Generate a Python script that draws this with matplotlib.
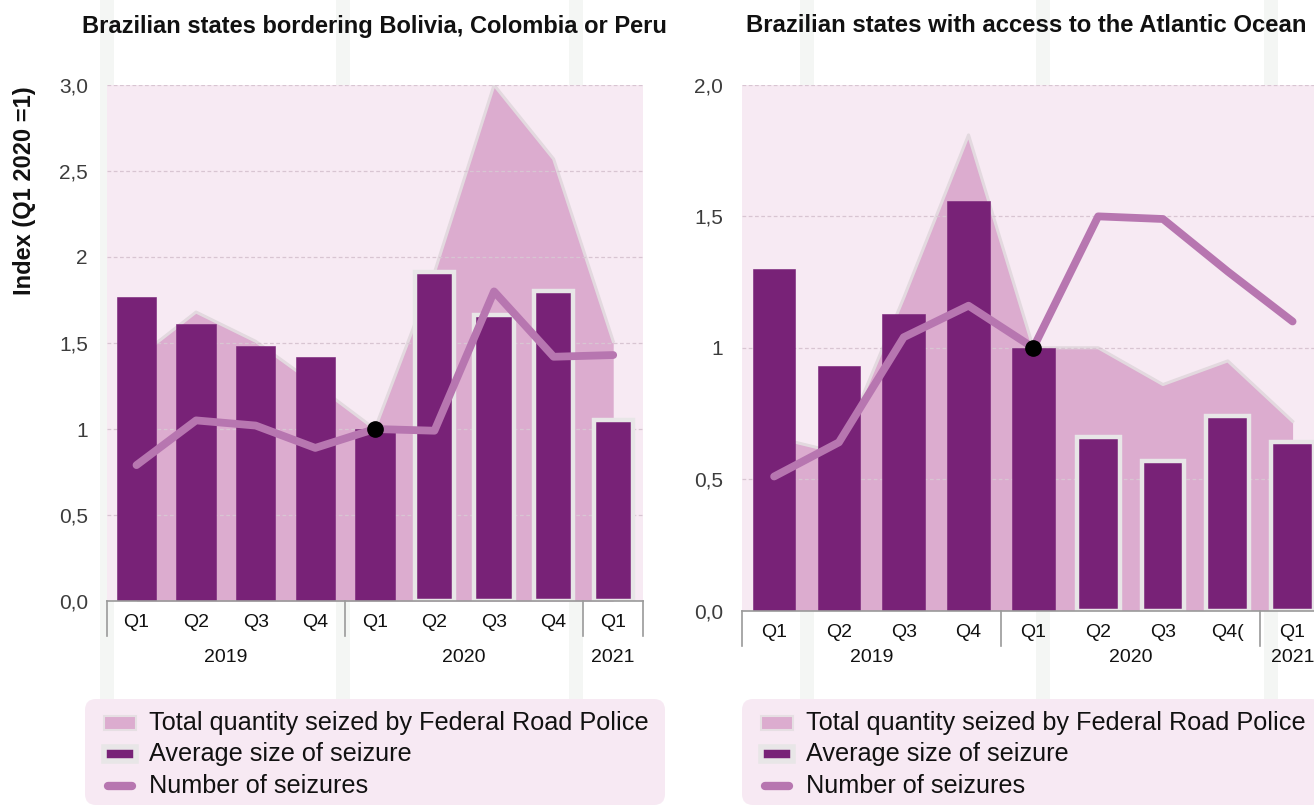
import matplotlib
matplotlib.use("Agg")
import matplotlib.pyplot as plt
import numpy as np
from matplotlib.patches import FancyBboxPatch, Rectangle
from matplotlib.lines import Line2D
from matplotlib.transforms import IdentityTransform

W, H = 1314, 805

# ---- data (index, Q1 2020 = 1) ----
quarters_left = ["Q1", "Q2", "Q3", "Q4", "Q1", "Q2", "Q3", "Q4", "Q1"]
quarters_right = ["Q1", "Q2", "Q3", "Q4", "Q1", "Q2", "Q3", "Q4(", "Q1"]
years = ["2019", "2020", "2021"]
year_spans = [(-0.5, 3.5), (3.5, 7.5), (7.5, 8.5)]

left_total = [1.41, 1.68, 1.51, 1.26, 1.00, 1.91, 3.00, 2.57, 1.51]
left_avg = [1.77, 1.61, 1.48, 1.42, 1.00, 1.91, 1.66, 1.80, 1.05]
left_count = [0.79, 1.05, 1.02, 0.89, 1.00, 0.99, 1.80, 1.42, 1.43]

right_total = [0.66, 0.60, 1.19, 1.81, 1.00, 1.00, 0.86, 0.95, 0.72]
right_avg = [1.30, 0.93, 1.13, 1.56, 1.00, 0.66, 0.57, 0.74, 0.64]
right_count = [0.51, 0.64, 1.04, 1.16, 1.00, 1.50, 1.49, 1.29, 1.10]

left_yticks = [0, 0.5, 1, 1.5, 2, 2.5, 3]
left_yticklabels = ["0,0", "0,5", "1", "1,5", "2", "2,5", "3,0"]
right_yticks = [0, 0.5, 1, 1.5, 2]
right_yticklabels = ["0,0", "0,5", "1", "1,5", "2,0"]

# colours
BG = "#f7eaf3"
AREA = "#dcaccf"
AREA_EDGE = "#e3d9df"
BAR = "#782277"
BAR_EDGE = "#e8e6e7"
LINE = "#b776b0"
GRID = "#d8c5d2"
AXIS = "#9a9a9a"

SANS = ["Liberation Sans", "DejaVu Sans"]


def px(x, y):
  """top-left pixel -> figure fraction"""
  return x / W, 1 - y / H


def __plot_panel(ax, labels, total, avg, count, ymax, yticks, yticklabels,
                 year_off):
  x = np.arange(len(labels))
  ax.set_facecolor(BG)
  ax.fill_between(x, total, color=AREA, linewidth=0, zorder=1)
  ax.plot(x, total, color=AREA_EDGE, lw=2.2, zorder=1.2)

  edges = [BAR if i < 5 else BAR_EDGE for i in x]
  lws = [0.4 if i < 5 else 3.2 for i in x]
  ax.bar(x, avg, width=0.66, color=BAR, edgecolor=edges, linewidth=lws,
         zorder=3)

  ax.plot(x, count, color=LINE, lw=5.6, solid_capstyle="round",
          solid_joinstyle="round", zorder=4)
  ax.plot(x[4], count[4], "o", color="black", ms=11, zorder=5)

  ax.set_xlim(-0.5, 8.5)
  ax.set_ylim(0, ymax)
  ax.set_axisbelow(False)
  ax.set_yticks(yticks)
  ax.set_yticklabels(yticklabels, family=SANS, fontsize=15, color="#3c3c3c")
  ax.yaxis.grid(True, linestyle=(0, (3, 2)), color=GRID, lw=0.9)
  ax.tick_params(axis="y", length=0, pad=13.5)

  ax.set_xticks(x)
  ax.set_xticklabels(labels, family=SANS, fontsize=14, color="#111111")
  ax.tick_params(axis="x", length=0, pad=9.5)

  for side in ["top", "right", "left"]:
    ax.spines[side].set_visible(False)
  ax.spines["bottom"].set_color(AXIS)
  ax.spines["bottom"].set_linewidth(1.2)
  ax.spines["bottom"].set_zorder(6)

  h_px = ax.get_position().height * H
  trans = ax.get_xaxis_transform()
  for xs in [-0.5, 3.5, 7.5, 8.5]:
    ax.plot([xs, xs], [0, -35 / h_px], transform=trans, color=AXIS, lw=1.2,
            clip_on=False, zorder=6)
  for year, (a, b) in zip(years, year_spans):
    ax.text((a + b) / 2, -year_off / h_px, year, transform=trans,
            ha="center", va="center", family=SANS, fontsize=14,
            color="#111111")


def __legend(x0, y0):
  """legend box with its top-left corner at pixel (x0, y0)"""
  fig = plt.gcf()
  box = FancyBboxPatch((x0, 0), 580, H - y0, transform=IdentityTransform(),
                       boxstyle="round,pad=0,rounding_size=11",
                       facecolor="#f7e9f3", edgecolor="none", zorder=0.5)
  fig.add_artist(box)
  hx = x0 + 19
  rows = [723, 754, 786]
  fig.add_artist(Rectangle(px(hx, rows[0] + 7), 32 / W, 14 / H,
                           transform=fig.transFigure, facecolor=AREA,
                           edgecolor="#e6dfe3", lw=1.5, zorder=1))
  fig.add_artist(Rectangle(px(hx, rows[1] + 7), 32 / W, 14 / H,
                           transform=fig.transFigure, facecolor=BAR,
                           edgecolor=BAR_EDGE, lw=4, zorder=1))
  lx0, ly = px(hx + 4, rows[2])
  lx1, _ = px(hx + 28, rows[2])
  fig.add_artist(Line2D([lx0, lx1], [ly, ly], transform=fig.transFigure,
                        color=LINE, lw=6, solid_capstyle="round", zorder=1))
  texts = ["Total quantity seized by Federal Road Police",
           "Average size of seizure", "Number of seizures"]
  for row, txt in zip(rows, texts):
    tx, ty = px(x0 + 64, row)
    fig.text(tx, ty, txt, ha="left", va="center", family=SANS, fontsize=18.2,
             color="#111111", zorder=2)


def __cmd():
  fig = plt.figure(figsize=(W / 100, H / 100), dpi=100)
  fig.patch.set_facecolor("white")

  # faint background bands
  for cx in [107, 343, 576, 807, 1043, 1271]:
    fig.add_artist(Rectangle(((cx - 7) / W, 0), 14 / W, 1,
                             transform=fig.transFigure, facecolor="#f4f6f4",
                             edgecolor="none", zorder=-1))

  ax1 = fig.add_axes([106.7 / W, (H - 601) / H, 536.3 / W, 516 / H])
  __plot_panel(ax1, quarters_left, left_total, left_avg, left_count, 3,
               left_yticks, left_yticklabels, 56)

  ax2 = fig.add_axes([741.7 / W, (H - 610.5) / H, 583.3 / W, 525.5 / H])
  __plot_panel(ax2, quarters_right, right_total, right_avg, right_count, 2,
               right_yticks, right_yticklabels, 47)

  fig.text(*px(374, 26), "Brazilian states bordering Bolivia, Colombia or Peru",
           ha="center", va="center", family=SANS, fontsize=17,
           fontweight="bold", color="#111111")
  fig.text(*px(1026, 26), "Brazilian states with access to the Atlantic Ocean",
           ha="center", va="center", family=SANS, fontsize=17.2,
           fontweight="bold", color="#111111")
  fig.text(*px(25, 191), "Index (Q1 2020 =1)", rotation=90, ha="center",
           va="center", family=SANS, fontsize=17, fontweight="bold",
           color="#111111")

  __legend(85, 699)
  __legend(742, 699)

  fig.savefig("out.png", dpi=100)


if __name__ == "__main__":
  __cmd()
